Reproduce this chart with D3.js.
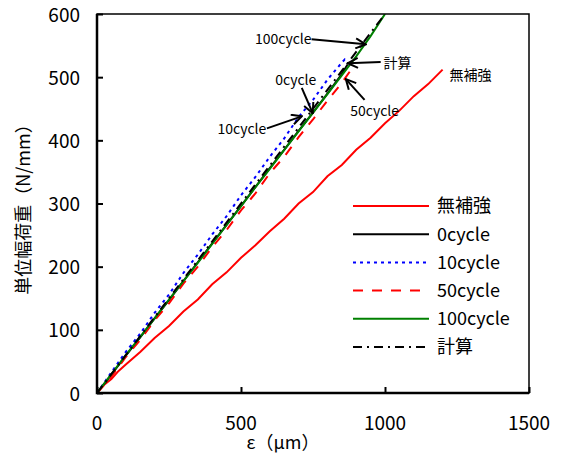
<!DOCTYPE html>
<html>
<head>
<meta charset="utf-8">
<script src="https://cdn.jsdelivr.net/npm/d3@7"></script>
<style>
  body { margin: 0; background: #fff; }
  text { font-family: "Noto Sans CJK JP", "Noto Sans", sans-serif; fill: #000; }
</style>
</head>
<body>
<div id="root"></div>
<script>
// strain (µm) vs unit width load (N/mm)
const mukyoX = [0, 25, 50, 75, 100, 150, 200, 250, 300, 350, 400, 450, 500, 550, 600, 650, 700, 750, 800, 850, 900, 950, 1000, 1050, 1100, 1150, 1200];
const mukyoY = [0, 13, 22, 35, 45, 65, 87, 106, 129, 148, 172, 191, 214, 234, 256, 276, 300, 318, 343, 361, 385, 404, 427, 447, 470, 489, 512];

const c0X = [0, 50, 100, 150, 200, 250, 300, 350, 400, 450, 500, 550, 600, 650, 700, 750, 800, 850, 870];
const c0Y = [0, 29, 59, 88, 118, 147, 177, 207, 237, 266, 296, 326, 356, 385, 415, 444, 474, 505, 520];

const c10X = [0, 50, 100, 150, 200, 250, 300, 350, 400, 450, 500, 550, 600, 650, 700, 750, 800, 850, 860, 870];
const c10Y = [0, 33, 65, 94, 127, 156, 190, 219, 251, 280, 313, 342, 374, 403, 437, 464, 496, 523, 528, 522];

const c50X = [0, 50, 100, 150, 200, 250, 300, 350, 400, 450, 500, 550, 600, 650, 700, 750, 800, 850, 884];
const c50Y = [0, 26, 57, 84, 115, 142, 173, 200, 231, 258, 289, 316, 348, 374, 405, 433, 463, 491, 513];

const c100X = [0, 50, 100, 150, 200, 250, 300, 350, 400, 450, 500, 550, 600, 650, 700, 750, 800, 850, 900, 950, 1000];
const c100Y = [0, 30, 60, 89, 118, 148, 177, 206, 236, 266, 296, 326, 355, 385, 414, 444, 473, 503, 533, 565, 600];

const calcX = [0, 1000];
const calcY = [0, 600];

const seriesNames = ["無補強", "0cycle", "10cycle", "50cycle", "100cycle", "計算"];
const xTicks = [0, 500, 1000, 1500];
const yTicks = [0, 100, 200, 300, 400, 500, 600];

// callouts, anchored in data units
const notes = [
  { text: "100cycle", tx: 745, ty: 560, anchor: "end", from: [745, 560], to: [933, 552] },
  { text: "計算", tx: 995, ty: 522, anchor: "start", from: [985, 524], to: [871, 522] },
  { text: "無補強", tx: 1224, ty: 503, anchor: "start", from: null, to: null },
  { text: "0cycle", tx: 690, ty: 495, anchor: "middle", from: [711, 483], to: [749, 443] },
  { text: "50cycle", tx: 964, ty: 446, anchor: "middle", from: [929, 464], to: [864, 497] },
  { text: "10cycle", tx: 503, ty: 418, anchor: "middle", from: [590, 419], to: [711, 438] }
];

const width = 564, height = 455;
const margin = { left: 97, top: 14, right: 35, bottom: 62 };
const w = width - margin.left - margin.right;
const h = height - margin.top - margin.bottom;

const x = d3.scaleLinear().domain([0, 1500]).range([0, w]);
const y = d3.scaleLinear().domain([0, 600]).range([h, 0]);

const styles = [
  { color: "#ff0000", dash: null },
  { color: "#000000", dash: null },
  { color: "#0000ff", dash: "3,4" },
  { color: "#ff0000", dash: "10,9" },
  { color: "#008000", dash: null },
  { color: "#000000", dash: "9,5,2,5" }
];

const raw = [[mukyoX, mukyoY], [c0X, c0Y], [c10X, c10Y], [c50X, c50Y], [c100X, c100Y], [calcX, calcY]];
const series = raw.map((pair, i) => ({
  name: seriesNames[i],
  style: styles[i],
  values: pair[0].map((v, j) => [v, pair[1][j]])
}));

const svg = d3.select("#root").append("svg")
  .attr("width", width)
  .attr("height", height);

const defs = svg.append("defs");
defs.append("clipPath").attr("id", "clip")
  .append("rect").attr("width", w).attr("height", h);
defs.append("marker")
  .attr("id", "arrow")
  .attr("viewBox", "0 0 12 12")
  .attr("refX", 11).attr("refY", 6)
  .attr("markerWidth", 12).attr("markerHeight", 12)
  .attr("markerUnits", "userSpaceOnUse")
  .attr("orient", "auto")
  .append("path")
    .attr("d", "M1,1 L11,6 L1,11")
    .attr("fill", "none")
    .attr("stroke", "#000")
    .attr("stroke-width", 2);

const g = svg.append("g").attr("transform", `translate(${margin.left},${margin.top})`);

// ticks (inward)
const xAxis = g.append("g")
  .attr("transform", `translate(0,${h})`)
  .call(d3.axisTop(x).tickValues(xTicks).tickSize(6).tickFormat(""));
const yAxis = g.append("g")
  .call(d3.axisRight(y).tickValues(yTicks).tickSize(6).tickFormat(""));
[xAxis, yAxis].forEach(a => {
  a.select(".domain").remove();
  a.selectAll("line").attr("stroke", "#000").attr("stroke-width", 2);
});

// tick labels
g.append("g").selectAll("text")
  .data(xTicks)
  .join("text")
    .attr("x", d => x(d))
    .attr("y", h + 37)
    .attr("text-anchor", "middle")
    .style("font-size", "19px")
    .text(d => d);

g.append("g").selectAll("text")
  .data(yTicks)
  .join("text")
    .attr("x", -17)
    .attr("y", d => y(d) + 1)
    .attr("dy", "0.35em")
    .attr("text-anchor", "end")
    .style("font-size", "19px")
    .text(d => d);

// series lines
const line = d3.line().x(d => x(d[0])).y(d => y(d[1]));
g.append("g")
  .attr("clip-path", "url(#clip)")
  .selectAll("path")
  .data(series)
  .join("path")
    .attr("d", d => line(d.values))
    .attr("fill", "none")
    .attr("stroke", d => d.style.color)
    .attr("stroke-width", 2)
    .attr("stroke-dasharray", d => d.style.dash);

// frame
g.append("rect")
  .attr("width", w).attr("height", h)
  .attr("fill", "none")
  .attr("stroke", "#000")
  .attr("stroke-width", 1.5);
g.append("path")
  .attr("d", `M0,0V${h}H${w}`)
  .attr("fill", "none")
  .attr("stroke", "#000")
  .attr("stroke-width", 2.5);

// callouts
const note = g.append("g");
note.selectAll("line")
  .data(notes.filter(n => n.from))
  .join("line")
    .attr("x1", d => x(d.from[0]))
    .attr("y1", d => y(d.from[1]))
    .attr("x2", d => x(d.to[0]))
    .attr("y2", d => y(d.to[1]))
    .attr("stroke", "#000")
    .attr("stroke-width", 2)
    .attr("marker-end", "url(#arrow)");
note.selectAll("text")
  .data(notes)
  .join("text")
    .attr("x", d => x(d.tx))
    .attr("y", d => y(d.ty))
    .attr("dy", "0.35em")
    .attr("text-anchor", d => d.anchor)
    .style("font-size", "14px")
    .text(d => d.text);

// legend
const legend = g.append("g").attr("transform", `translate(${353 - margin.left},${206 - margin.top})`);
const item = legend.selectAll("g")
  .data(series)
  .join("g")
    .attr("transform", (d, i) => `translate(0,${i * 28.2})`);
item.append("line")
  .attr("x1", 0).attr("x2", 76)
  .attr("stroke", d => d.style.color)
  .attr("stroke-width", 2)
  .attr("stroke-dasharray", d => d.style.dash);
item.append("text")
  .attr("x", 84)
  .attr("dy", "0.35em")
  .style("font-size", "18px")
  .text(d => d.name);

// axis titles
g.append("text")
  .attr("x", x(750) - 30)
  .attr("y", h + 56)
  .attr("text-anchor", "middle")
  .style("font-size", "18px")
  .text("ε（μm）");

svg.append("text")
  .attr("transform", "translate(30,205) rotate(-90)")
  .attr("text-anchor", "middle")
  .style("font-size", "18px")
  .text("単位幅荷重（N/mm）");
</script>
</body>
</html>
